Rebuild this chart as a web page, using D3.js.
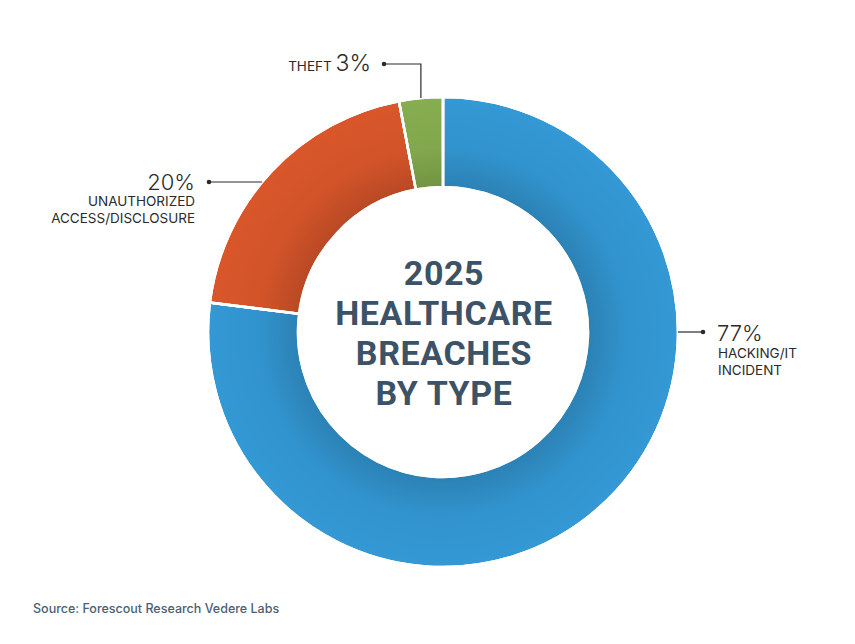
<!DOCTYPE html>
<html><head><meta charset="utf-8">
<script src="https://cdn.jsdelivr.net/npm/d3@7/dist/d3.min.js"></script>
<style>body{margin:0;background:#fff}svg{display:block}</style>
</head><body>
<svg id="c" width="855" height="644"></svg>
<script>
const categories = ["HACKING/IT INCIDENT", "UNAUTHORIZED ACCESS/DISCLOSURE", "THEFT"];
const values = [77, 20, 3];
const colors = ["#3398d4", "#d9562a", "#86ad4f"];
const titleLines = ["2025", "HEALTHCARE", "BREACHES", "BY TYPE"];
const source = "Source: Forescout Research Vedere Labs";

const svg = d3.select("#c");
const cx = 443, cy = 332, R = 235, r = 145;
const defs = svg.append("defs");
const grad = defs.append("radialGradient").attr("id","shade").attr("gradientUnits","userSpaceOnUse")
  .attr("cx",0).attr("cy",0).attr("r",R);
grad.append("stop").attr("offset", r/R).attr("stop-color","#000").attr("stop-opacity",0.15);
grad.append("stop").attr("offset", (r+40)/R).attr("stop-color","#000").attr("stop-opacity",0.03);
grad.append("stop").attr("offset", 1).attr("stop-color","#000").attr("stop-opacity",0);

const pie = d3.pie().sort(null).value(d=>d)(values);
const arc = d3.arc().innerRadius(r).outerRadius(R);
const g = svg.append("g").attr("transform",`translate(${cx},${cy})`);
g.selectAll("path.s").data(pie).join("path").attr("class","s").attr("d",arc)
  .attr("fill",(d,i)=>colors[i]);
g.selectAll("path.sh").data(pie).join("path").attr("class","sh").attr("d",arc)
  .attr("fill","url(#shade)");
g.selectAll("path").attr("stroke","#fff").attr("stroke-width",2.5);

// title
const t = svg.append("text").attr("text-anchor","middle").attr("fill","#3c5266")
  .attr("font-family","Roboto, 'Open Sans', sans-serif").attr("font-weight",700)
  .attr("font-size",34).attr("letter-spacing",0.6);
titleLines.forEach((l,i)=>t.append("tspan").attr("x",cx+1).attr("y",285+i*40).text(l));

const ink = "#2b2b2b";
const lab = svg.append("g").attr("font-family","Inter, 'Noto Sans', sans-serif").attr("fill",ink);
function dot(x,y){svg.append("circle").attr("cx",x).attr("cy",y).attr("r",2.3).attr("fill",ink);}
function line(pts){svg.append("path").attr("d",d3.line()(pts)).attr("stroke",ink).attr("stroke-width",1.2).attr("fill","none");}

// 77%
line([[cx+R,cy],[703,cy]]); dot(703,cy);
lab.append("text").attr("x",717).attr("y",341).attr("font-size",22).attr("font-weight",300).text(values[0]+"%");
lab.append("text").attr("x",718).attr("y",358).attr("font-size",13.5).text("HACKING/IT");
lab.append("text").attr("x",718).attr("y",375).attr("font-size",13.5).text("INCIDENT");

// 20%
const yL = 182;
line([[209,yL],[cx - Math.sqrt(R*R-(cy-yL)*(cy-yL)), yL]]);
dot(209,yL);
lab.append("text").attr("x",195).attr("y",190).attr("text-anchor","end").attr("font-size",22).attr("font-weight",300).text(values[1]+"%");
lab.append("text").attr("x",195).attr("y",206).attr("text-anchor","end").attr("font-size",13.5).text("UNAUTHORIZED");
lab.append("text").attr("x",195).attr("y",223).attr("text-anchor","end").attr("font-size",13.5).text("ACCESS/DISCLOSURE");

// 3%
const mid2 = (pie[2].startAngle+pie[2].endAngle)/2;
const lx = cx + R*Math.sin(mid2);
line([[384,64],[lx,64],[lx, cy - R*Math.cos(mid2)]]); dot(384,64);
const th = lab.append("text").attr("x",371).attr("y",71).attr("text-anchor","end");
th.append("tspan").attr("font-size",13.5).text("THEFT ");
th.append("tspan").attr("font-size",23).attr("font-weight",300).text(values[2]+"%");

svg.append("text").attr("x",33).attr("y",613).attr("fill","#4a5f75")
  .attr("font-family","Inter, 'Noto Sans', sans-serif").attr("font-weight",500).attr("font-size",12.5).text(source);
</script>
</body></html>
